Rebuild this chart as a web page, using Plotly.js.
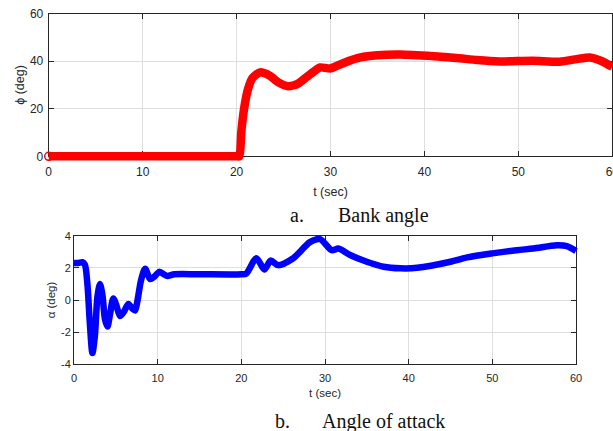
<!DOCTYPE html>
<html>
<head>
<meta charset="utf-8">
<script src="https://cdn.plot.ly/plotly-3.0.1.min.js"></script>
<style>html,body{margin:0;padding:0;background:#fff;}#chart{width:613px;height:431px;}</style>
</head>
<body>
<div id="chart"></div>
<script>
// Bank angle (deg) vs time (sec)
const tBank = [0, 10, 20.0, 20.3, 20.5, 20.8, 21.2, 21.7, 22.5, 23.5, 24.5, 25.5, 26.5, 27.5, 28.2, 28.9, 30, 31.4, 33.2, 35, 37.4, 41, 43.4, 45.6, 48, 51.5, 54.4, 56.2, 57.6, 58.9, 60];
const phiDeg = [0, 0, 0, 0, 10, 20, 28, 33, 35.3, 34, 31, 29.5, 30.5, 33.5, 35.6, 37.4, 37, 39.3, 41.6, 42.5, 42.8, 42.1, 41.4, 40.5, 39.9, 40.2, 39.8, 40.9, 41.6, 40, 37.6];

// Angle of attack (deg) vs time (sec)
const tAlpha = [0, 0.5, 1.0, 1.3, 1.6, 1.9, 2.2, 2.5, 2.8, 3.1, 3.4, 3.7, 4.0, 4.3, 4.7, 5.1, 5.5, 6.0, 6.5, 7.0, 7.3, 7.6, 8.0, 8.5, 9.1, 9.6, 10.2, 11.1, 12, 15, 20, 20.6, 21.8, 22.75, 23.5, 24.4, 26.2, 28.2, 29.4, 30.8, 31.6, 33, 35, 37, 39, 41, 45, 47, 50, 52.9, 54.9, 57.7, 58.9, 60];
const alphaDeg = [2.3, 2.3, 2.35, 2.2, 1.0, -1.5, -3.3, -2.2, 0.2, 1.0, 0.3, -1.2, -1.65, -0.9, 0.1, -0.4, -1.0, -0.7, -0.25, -0.55, -0.65, 0, 1.2, 1.95, 1.3, 1.45, 1.75, 1.5, 1.6, 1.6, 1.6, 1.65, 2.6, 1.9, 2.45, 2.17, 2.6, 3.6, 3.79, 3.1, 3.2, 2.8, 2.38, 2.07, 1.97, 2.0, 2.38, 2.65, 2.9, 3.1, 3.2, 3.4, 3.35, 3.05];

const xTicks = [0, 10, 20, 30, 40, 50, 60];
const yTicksBank = [0, 20, 40, 60];
const yTicksAlpha = [-4, -2, 0, 2, 4];

const W = 613, H = 431;
const AX = '#262626', GRID = '#dedede';
const sans = 'Liberation Sans, Arial, sans-serif';
const serif = 'Liberation Serif, Times New Roman, serif';

// plot boxes in pixels
const boxA = {l: 48.7, r: 612.3, t: 13.7, b: 156.3, x0: 0, x1: 60, y0: 0, y1: 60};
const boxB = {l: 74, r: 576, t: 235.7, b: 364.3, x0: 0, x1: 60, y0: -4, y1: 4};

// hidden twin axes covering a slightly larger area with the same scale,
// so thick lines are not cut at the plot frame
function twin(box, pad) {
  const kx = (box.x1 - box.x0) / (box.r - box.l);
  const ky = (box.y1 - box.y0) / (box.b - box.t);
  const l = Math.max(0, box.l - pad), r = Math.min(W, box.r + pad);
  const t = Math.max(0, box.t - pad), b = Math.min(H, box.b + pad);
  return {
    x: {domain: [l / W, r / W], range: [box.x0 - (box.l - l) * kx, box.x1 + (r - box.r) * kx]},
    y: {domain: [1 - b / H, 1 - t / H], range: [box.y0 - (b - box.b) * ky, box.y1 + (box.t - t) * ky]}
  };
}
const twA = twin(boxA, 8), twB = twin(boxB, 8);

const traces = [
  // empty traces so that the visible framed subplots are created
  {x: [], y: [], xaxis: 'x', yaxis: 'y', type: 'scatter', mode: 'lines', hoverinfo: 'skip'},
  {x: [], y: [], xaxis: 'x2', yaxis: 'y2', type: 'scatter', mode: 'lines', hoverinfo: 'skip'},
  {x: tBank, y: phiDeg, xaxis: 'x3', yaxis: 'y3', type: 'scatter', mode: 'lines',
   line: {color: '#ff0000', width: 8.5, shape: 'spline', smoothing: 0.6}, hoverinfo: 'skip'},
  {x: tBank.slice(0, 1), y: phiDeg.slice(0, 1), xaxis: 'x3', yaxis: 'y3', type: 'scatter', mode: 'markers',
   marker: {symbol: 'circle-open', size: 8, color: '#ff0000', line: {width: 1.5}}, hoverinfo: 'skip'},
  {x: tAlpha, y: alphaDeg, xaxis: 'x4', yaxis: 'y4', type: 'scatter', mode: 'lines',
   line: {color: '#0000ff', width: 6.5, shape: 'spline', smoothing: 0.8}, hoverinfo: 'skip'}
];

function axisBase(tickvals, range, size) {
  return {
    range: range, tickmode: 'array', tickvals: tickvals, ticktext: tickvals.map(String),
    ticks: 'inside', ticklen: 5, tickcolor: AX, tickwidth: 1,
    showline: true, linecolor: AX, linewidth: 1, mirror: 'ticks',
    showgrid: true, gridcolor: GRID, gridwidth: 1, zeroline: false, ticklabeloverflow: 'allow',
    tickfont: {family: sans, size: size, color: AX}, automargin: false, fixedrange: true
  };
}
function hidden(spec, anchor) {
  return {domain: spec.domain, range: spec.range, anchor: anchor, visible: false,
    showgrid: false, zeroline: false, showline: false, fixedrange: true};
}

const layout = {
  width: W, height: H,
  margin: {l: 0, r: 0, t: 0, b: 0},
  paper_bgcolor: '#ffffff', plot_bgcolor: 'rgba(0,0,0,0)',
  showlegend: false,
  xaxis: Object.assign(axisBase(xTicks, [boxA.x0, boxA.x1], 12), {
    domain: [boxA.l / W, boxA.r / W], anchor: 'y', ticklabelstandoff: 4,
    title: {text: 't (sec)', font: {family: sans, size: 12.5, color: AX}, standoff: 9}
  }),
  yaxis: Object.assign(axisBase(yTicksBank, [boxA.y0, boxA.y1], 12), {
    domain: [1 - boxA.b / H, 1 - boxA.t / H], anchor: 'x', ticklabelstandoff: 2,
    title: {text: 'ϕ (deg)', font: {family: sans, size: 12.5, color: AX}, standoff: 2}
  }),
  xaxis2: Object.assign(axisBase(xTicks, [boxB.x0, boxB.x1], 11), {
    domain: [boxB.l / W, boxB.r / W], anchor: 'y2', ticklabelstandoff: 3,
    title: {text: 't (sec)', font: {family: sans, size: 11.5, color: AX}, standoff: 6}
  }),
  yaxis2: Object.assign(axisBase(yTicksAlpha, [boxB.y0, boxB.y1], 11), {
    domain: [1 - boxB.b / H, 1 - boxB.t / H], anchor: 'x2',
    title: {text: 'α (deg)', font: {family: sans, size: 11.5, color: AX}, standoff: 2}
  }),
  xaxis3: hidden(twA.x, 'y3'),
  yaxis3: hidden(twA.y, 'x3'),
  xaxis4: hidden(twB.x, 'y4'),
  yaxis4: hidden(twB.y, 'x4'),
  annotations: [
    {text: 'a.', xref: 'paper', yref: 'paper', x: 288 / W, y: 1 - 215 / H, xanchor: 'left', yanchor: 'middle',
     showarrow: false, font: {family: serif, size: 20, color: '#111'}},
    {text: 'Bank angle', xref: 'paper', yref: 'paper', x: 336 / W, y: 1 - 215 / H, xanchor: 'left', yanchor: 'middle',
     showarrow: false, font: {family: serif, size: 20, color: '#111'}},
    {text: 'b.', xref: 'paper', yref: 'paper', x: 272.5 / W, y: 1 - 421 / H, xanchor: 'left', yanchor: 'middle',
     showarrow: false, font: {family: serif, size: 20, color: '#111'}},
    {text: 'Angle of attack', xref: 'paper', yref: 'paper', x: 319.5 / W, y: 1 - 421 / H, xanchor: 'left', yanchor: 'middle',
     showarrow: false, font: {family: serif, size: 20, color: '#111'}}
  ]
};

Plotly.newPlot('chart', traces, layout, {staticPlot: true, displayModeBar: false});
</script>
</body>
</html>
